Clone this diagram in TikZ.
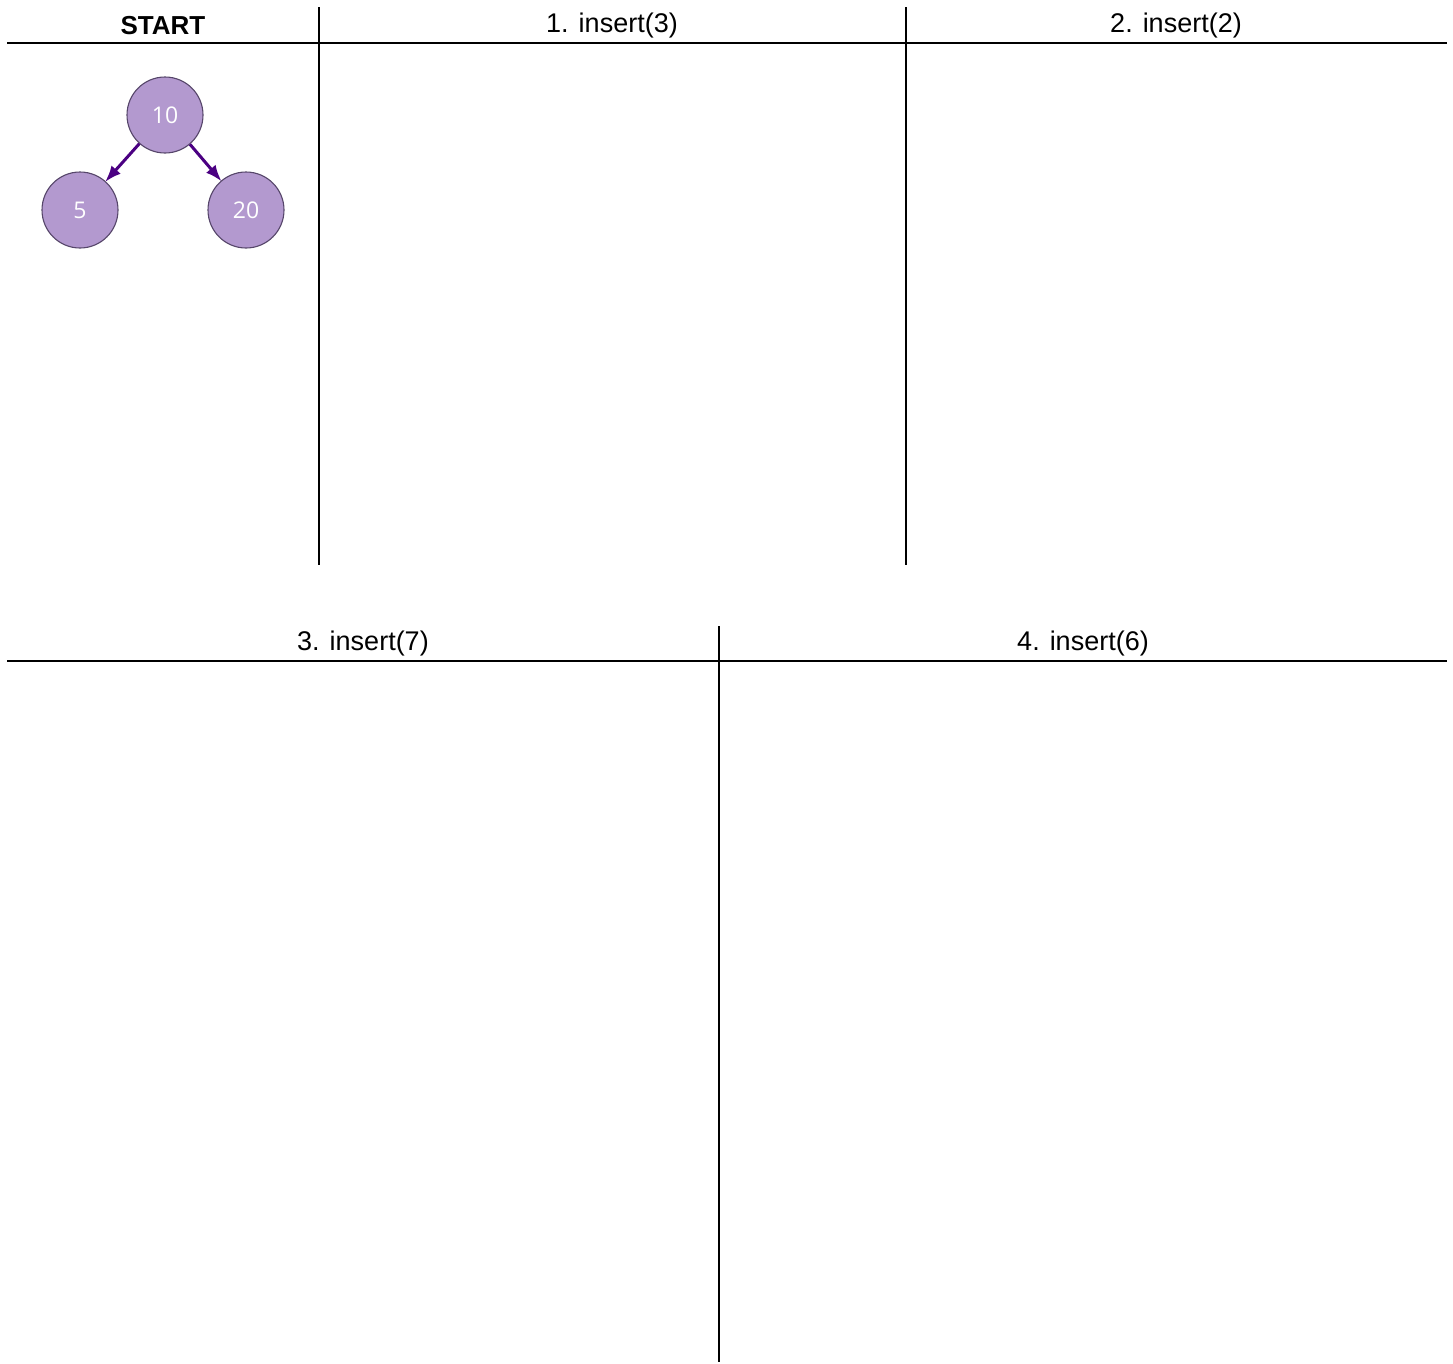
\documentclass[tikz,border=0pt]{standalone}
\usepackage{fontspec}
\setmainfont{Liberation Sans}
\newfontfamily\numfont{Open Sans}
\usetikzlibrary{arrows.meta,positioning}
\definecolor{lilac}{HTML}{B399CF}
\definecolor{lilacedge}{HTML}{56466A}
\definecolor{indigo}{HTML}{4B0082}

\begin{document}
\begin{tikzpicture}[x=1pt,y=-1pt,>=Latex,
 head/.style={font=\fontsize{27}{31}\selectfont,anchor=center},
 rule/.style={line width=1.6pt,black},
 key/.style={circle,draw=lilacedge,line width=1.1pt,fill=lilac,minimum size=76pt,inner sep=0pt,
  text=white,font=\numfont\fontsize{23}{27}\selectfont},
 arr/.style={->,line width=3pt,indigo,shorten >=-1pt}]
 \useasboundingbox (0,0) rectangle (1453,1363);
 % top row
 \draw[rule] (7,43)--(1447,43);
 \draw[rule] (319,7)--(319,565);
 \draw[rule] (906,7)--(906,565);
 \node[head,font=\fontsize{26}{30}\selectfont\bfseries] (start) at (163,26) {START};
 \node[head] (ins3) at (612,26) {1. insert(3)};
 \node[head] (ins2) at (1176,26) {2. insert(2)};
 % bottom row
 \draw[rule] (7,661)--(1447,661);
 \draw[rule] (719,626)--(719,1362);
 \node[head] (ins7) at (363,644) {3. insert(7)};
 \node[head] (ins6) at (1083,644) {4. insert(6)};
 % starting tree
 \node[key] (root) at (165,115) {10};
 \node[key] (left) at (80,210) {5};
 \node[key] (right) at (246,210) {20};
 \draw[arr] (root)--(left);\draw[arr] (root)--(right);
\end{tikzpicture}
\end{document}
